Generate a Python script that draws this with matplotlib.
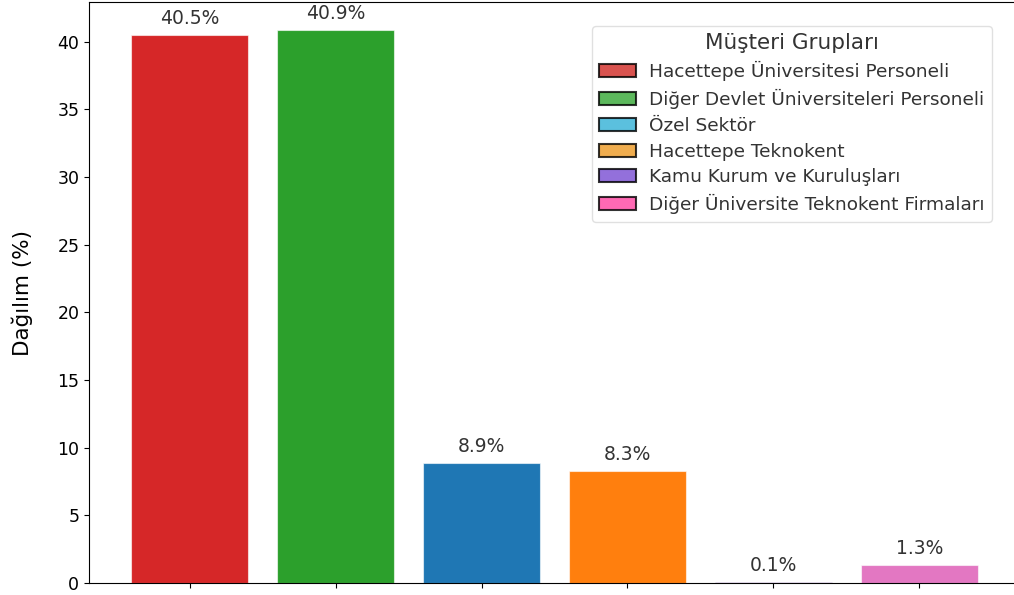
import matplotlib
matplotlib.use("Agg")
import matplotlib.pyplot as plt
from matplotlib.patches import Patch

categories = ["Hacettepe Üniversitesi Personeli",
              "Diğer Devlet Üniversiteleri Personeli",
              "Özel Sektör",
              "Hacettepe Teknokent",
              "Kamu Kurum ve Kuruluşları",
              "Diğer Üniversite Teknokent Firmaları"]
values = [40.5, 40.9, 8.9, 8.3, 0.1, 1.3]
bar_colors = ["#d62728", "#2ca02c", "#1f77b4", "#ff7f0e", "#9467bd", "#e377c2"]
legend_colors = ["#d9534f", "#5cb85c", "#5bc0de", "#f0ad4e", "#9370db", "#ff69b4"]

plt.rcParams['font.family'] = ['DejaVu Sans']

fig = plt.figure(figsize=(10.14, 5.95), dpi=100)
W, H = 1014, 595
ax = fig.add_axes([89 / W, (595 - 583) / H, (1020 - 89) / W, 581 / H])

x = list(range(len(categories)))
bars = ax.bar(x, values, width=0.8, color=bar_colors, edgecolor=(1, 1, 1, 0.6), linewidth=0.8)
for xi, v in zip(x, values):
    ax.annotate(f"{v}%", (xi, v), xytext=(0, 5), textcoords="offset points",
                ha="center", va="bottom", fontsize=13.5, color="#333333")

ax.set_xticks(x)
ax.set_xticklabels([])
ax.tick_params(axis='y', labelsize=12.5)
ax.set_ylabel("Dağılım (%)", fontsize=15.5)
ax.yaxis.set_label_coords(-56 / 931, 0.5)
ax.set_yticks([0, 5, 10, 15, 20, 25, 30, 35, 40])

handles = [Patch(facecolor=c, edgecolor=(0, 0, 0, 0.8), linewidth=1.5, label=l)
           for c, l in zip(legend_colors, categories)]
leg = ax.legend(handles=handles, title="Müşteri Grupları", loc="upper right",
                bbox_to_anchor=(992 / W, 1 - 26 / H), bbox_transform=fig.transFigure,
                borderaxespad=0, fontsize=13.3, title_fontsize=15.5, frameon=True,
                fancybox=True, framealpha=0.9, edgecolor="#dddddd",
                labelspacing=0.42, handletextpad=0.7, borderpad=0.4)
for t in leg.get_texts():
    t.set_color("#333333")
leg.get_title().set_color("#333333")

fig.savefig("out.png", dpi=100)
